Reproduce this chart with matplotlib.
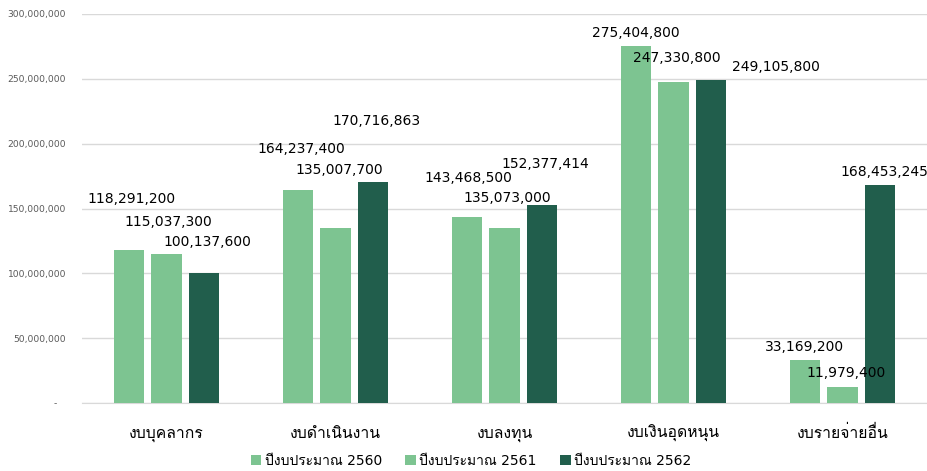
import numpy as np
import matplotlib
matplotlib.use("Agg")
import matplotlib.pyplot as plt
from matplotlib.ticker import FuncFormatter

plt.rcParams["font.family"] = ["DejaVu Sans", "Loma"]

categories = ["งบบุคลากร", "งบดำเนินงาน", "งบลงทุน", "งบเงินอุดหนุน", "งบรายจ่ายอื่น"]
series_names = ["ปีงบประมาณ 2560", "ปีงบประมาณ 2561", "ปีงบประมาณ 2562"]
budget_2560 = [118291200, 164237400, 143468500, 275404800, 33169200]
budget_2561 = [115037300, 135007700, 135073000, 247330800, 11979400]
budget_2562 = [100137600, 170716863, 152377414, 249105800, 168453245]
yticks = [0, 50000000, 100000000, 150000000, 200000000, 250000000, 300000000]

colors = ["#7DC491", "#7DC491", "#215E4C"]
# where Excel's data labels were dragged to (pixels from bar top centre)
label_offsets = [
    [(3, 51), (3, 41), (1, 39), (0, 13), (0, 13)],
    [(1.5, 32), (3.5, 58), (2.5, 30), (3.5, 24), (3.5, 14)],
    [(3, 31), (3, 61), (3, 41), (65, 13), (4, 13)],
]

fig = plt.figure(figsize=(9.28, 4.71), dpi=100)
ax = fig.add_axes([82 / 928, 1 - 403 / 471, 845 / 928, 389 / 471])

x = np.arange(len(categories))
width = 0.18
step = 0.222
for i, vals in enumerate([budget_2560, budget_2561, budget_2562]):
    bars = ax.bar(x + (i - 1) * step, vals, width, color=colors[i],
                  label=series_names[i], zorder=3)
    for j, b in enumerate(bars):
        dx, dy = label_offsets[i][j]
        ax.annotate(f"{vals[j]:,}", (b.get_x() + b.get_width() / 2, b.get_height()),
                    xytext=(dx, dy), textcoords="offset pixels",
                    ha="center", va="center", fontsize=10, color="black", zorder=4)

ax.set_xlim(-0.5, len(categories) - 0.5)
ax.set_ylim(0, 300000000)
ax.set_yticks(yticks)
ax.yaxis.set_major_formatter(FuncFormatter(lambda v, p: "-   " if v == 0 else f"{int(v):,}"))
ax.grid(axis="y", color="#D9D9D9", linewidth=1, zorder=0)
for s in ["top", "right", "left"]:
    ax.spines[s].set_visible(False)
ax.spines["bottom"].set_color("#D9D9D9")
ax.tick_params(axis="y", length=0, pad=11.5, labelsize=6.6, labelcolor="#595959")
ax.tick_params(axis="x", length=0, pad=25, labelsize=11.3)
ax.set_xticks(x)
ax.set_xticklabels(categories)
for lbl in ax.get_xticklabels():
    lbl.set_va("baseline")

ax.legend(loc="center", bbox_to_anchor=(471 / 928, 1 - 461 / 471),
          bbox_transform=fig.transFigure, ncol=3, frameon=False, fontsize=10,
          handlelength=0.75, handleheight=0.75, handletextpad=0.25, columnspacing=1.7)

fig.savefig("out.png", dpi=100)
